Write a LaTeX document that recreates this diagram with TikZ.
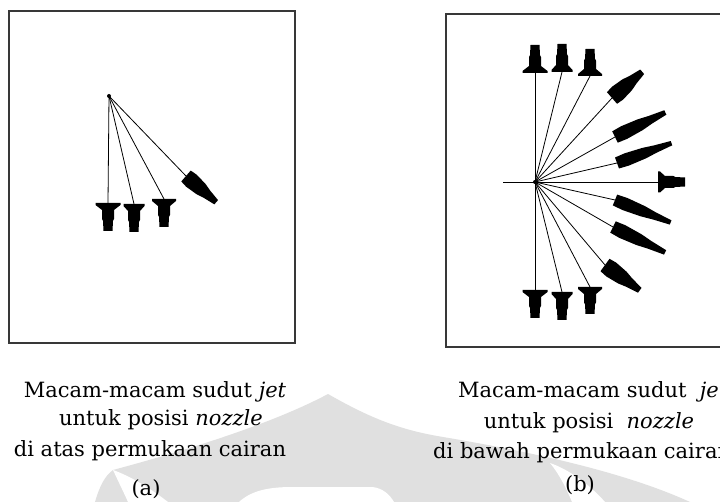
\documentclass[tikz,border=0pt]{standalone}
\usepackage{fontspec}
\setmainfont{DejaVu Serif}
\begin{document}
\begin{tikzpicture}[x=1pt,y=-1pt,
  frame/.style={draw=black!78,line width=1.3pt},
  jetline/.style={draw=black,line width=0.8pt},
  caption/.style={anchor=base,inner sep=0pt,font=\fontsize{21}{25}\selectfont},
  wm/.style={fill=black!12},
  % upright head: flat bar at the base, narrow stem behind it
  pics/jethead/.style 2 args={code={
    \fill (0,#2) -- (2,#2) -- (7,6) -- ({#1*0.57},6) -- ({#1*0.64},5)
      -- (#1,4.5) -- (#1,-4.5) -- ({#1*0.64},-5) -- ({#1*0.57},-6) -- (7,-6)
      -- (2,-#2) -- (0,-#2) -- cycle;}},
  % slanted head: swelling body tapering to the tip
  pics/slanthead/.style 2 args={code={
    \fill (0,{#2*0.9}) -- ({#1*0.18},#2) -- ({#1*0.5},{#2*0.85})
      -- ({#1*0.7},{#2*0.6}) -- (#1,{#2*0.35}) -- (#1,{-#2*0.35})
      -- ({#1*0.7},{-#2*0.6}) -- ({#1*0.5},{-#2*0.85}) -- ({#1*0.18},-#2)
      -- (0,{-#2*0.9}) -- cycle;}}]
\useasboundingbox (0,0) rectangle (720,502);
\fill[white] (0,0) rectangle (720,502);

% faint emblem behind the captions
\fill[wm] (95,502) .. controls (100,485) and (105,476) .. (113,470)
  .. controls (180,452) and (270,425) .. (328,394)
  .. controls (370,418) and (400,430) .. (443,437)
  .. controls (520,450) and (620,470) .. (690,502) -- cycle;
\fill[white] (113,470) .. controls (120,485) and (125,495) .. (128,502)
  -- (168,502) .. controls (150,488) and (130,476) .. (113,470) -- cycle;
\fill[white] (239,502) .. controls (252,490) and (270,487) .. (293,487)
  -- (372,487) .. controls (383,488) and (390,495) .. (394,502) -- cycle;
\fill[white] (550,463) .. controls (560,475) and (567,490) .. (572,502)
  -- (605,502) .. controls (590,485) and (570,470) .. (550,463) -- cycle;

% frames
\draw[frame] (9,11) rectangle (295,343);
\draw[frame] (446,14) rectangle (730,347);

% (a) nozzle above the liquid surface
\coordinate (oa) at (109,96);
\coordinate (a0) at (108,203);
\coordinate (a1) at (134,204);
\coordinate (a2) at (164,199);
\coordinate (a3) at (186,176);
\fill (oa) circle (2);
\draw[jetline] (oa) -- (a0);
\draw[jetline] (oa) -- (a1);
\draw[jetline] (oa) -- (a2);
\draw[jetline] (oa) -- (a3);
\pic[rotate=-90] at (a0) {jethead={28}{12.5}};
\pic[rotate=-90] at (a1) {jethead={28}{10.5}};
\pic[rotate=-90] at (a2) {jethead={28}{12}};
\pic[rotate=-41] at (a3) {slanthead={40}{8}};

% (b) nozzle below the liquid surface
\coordinate (ob) at (535,182);
\coordinate (hl) at (503,182);
\coordinate (u0) at (535,73);
\coordinate (u1) at (562,72);
\coordinate (u2) at (590,76);
\coordinate (u3) at (612,98);
\coordinate (u4) at (615,137);
\coordinate (u5) at (617,163);
\coordinate (r0) at (658,182);
\coordinate (d5) at (615,200);
\coordinate (d4) at (613,227);
\coordinate (d3) at (605,265);
\coordinate (d2) at (590,287);
\coordinate (d1) at (562,292);
\coordinate (d0) at (535,290);
\fill (ob) circle (2);
\draw[jetline] (hl) -- (r0);
\draw[jetline] (d0) -- (u0);
\foreach \p in {u1,u2,u3,u4,u5,d5,d4,d3,d2,d1}
  \draw[jetline] (ob) -- (\p);
\pic[rotate=90]  at (u0) {jethead={28}{12.5}};
\pic[rotate=90]  at (u1) {jethead={28}{10.5}};
\pic[rotate=90]  at (u2) {jethead={27}{12}};
\pic[rotate=41]  at (u3) {slanthead={40}{8.5}};
\pic[rotate=26]  at (u4) {slanthead={56}{7}};
\pic[rotate=20]  at (u5) {slanthead={58}{6.5}};
\pic[rotate=0]   at (r0) {jethead={27}{10.5}};
\pic[rotate=-22] at (d5) {slanthead={60}{6.5}};
\pic[rotate=-26] at (d4) {slanthead={58}{7}};
\pic[rotate=-36] at (d3) {slanthead={43}{8.5}};
\pic[rotate=-90] at (d2) {jethead={27}{12}};
\pic[rotate=-90] at (d1) {jethead={28}{10.5}};
\pic[rotate=-90] at (d0) {jethead={28}{12.5}};

% captions
\node[caption] (ca1) at (155,398) {Macam-macam sudut \textit{jet}};
\node[caption] (ca2) at (161,425) {untuk posisi \textit{nozzle}};
\node[caption] (ca3) at (150,456) {di atas permukaan cairan};
\node[caption] (ca4) at (146,495) {(a)};
\node[caption,anchor=base west] (cb1) at (458,398) {Macam-macam sudut\ \ \textit{jet}};
\node[caption] (cb2) at (589,428) {untuk posisi\ \ \textit{nozzle}};
\node[caption,anchor=base west] (cb3) at (433,458) {di bawah permukaan cairan};
\node[caption] (cb4) at (580,491) {(b)};
\end{tikzpicture}
\end{document}
